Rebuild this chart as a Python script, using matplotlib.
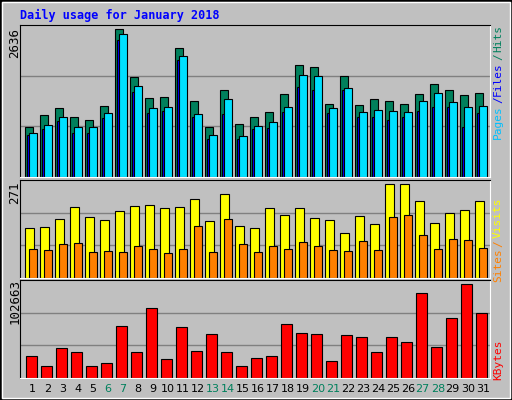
import matplotlib
matplotlib.use("Agg")
import matplotlib.pyplot as plt
from matplotlib.patches import Rectangle

days = list(range(1, 32))
weekend = [6, 7, 13, 14, 20, 21, 27, 28]

hits = [901, 1115, 1223, 1079, 1026, 1276, 2636, 1777, 1402, 1437, 2296, 1348, 901, 1545, 954, 1079,
        1169, 1473, 1992, 1956, 1312, 1795, 1294, 1384, 1348, 1312, 1473, 1652, 1545, 1455, 1491]
files = [757, 865, 1008, 793, 793, 1062, 2439, 1509, 1151, 1187, 2081, 1079, 686, 1133, 686, 865,
         883, 1169, 1598, 1545, 1151, 1545, 1079, 1079, 1026, 1079, 1187, 1258, 1241, 901, 1151]
pages = [793, 936, 1079, 901, 901, 1151, 2547, 1616, 1223, 1258, 2153, 1133, 757, 1384, 740, 918,
         990, 1258, 1813, 1795, 1223, 1580, 1169, 1205, 1187, 1169, 1348, 1491, 1330, 1258, 1276]
visits = [144, 147, 171, 206, 177, 168, 194, 209, 212, 203, 206, 227, 165, 242, 150, 144,
          203, 183, 203, 174, 168, 130, 180, 156, 271, 271, 221, 159, 189, 197, 221]
sites = [85, 80, 97, 100, 74, 77, 74, 91, 85, 71, 85, 150, 74, 171, 97, 74,
         91, 85, 103, 91, 82, 77, 106, 80, 177, 183, 124, 85, 112, 109, 88]
kbytes = [23694, 13540, 32721, 28208, 13540, 16925, 56415, 28208, 76724, 20309, 55287, 29336,
          48517, 28208, 13540, 21438, 23694, 58672, 49645, 48517, 18053, 47389, 45132, 28208,
          45132, 39491, 92521, 33849, 65441, 102663, 71083]

BG = "#C0C0C0"
GREEN = "#00805C"
W, H = 512, 400
fig = plt.figure(figsize=(W / 100, H / 100), dpi=100, facecolor=BG)
fig.patches.append(Rectangle((0, 0), 1, 1, transform=fig.transFigure, fill=False,
                             edgecolor="black", lw=2))
fig.patches.append(Rectangle((2 / W, 2 / H), 1 - 4 / W, 1 - 4 / H, transform=fig.transFigure,
                             fill=False, edgecolor="white", lw=1))

mono = "DejaVu Sans Mono"
fig.text(20 / W, 1 - 15 / H, "Daily usage for January 2018", color="#0000FF",
         family=mono, weight="bold", fontsize=8.5, va="center")


def make_ax(top, bottom, ymax):
    ax = fig.add_axes([20 / W, 1 - bottom / H, 470 / W, (bottom - top) / H])
    ax.set_facecolor(BG)
    ax.set_xlim(0.15, 31.48)
    ax.set_ylim(0, ymax)
    for f in (1 / 3, 2 / 3):
        ax.axhline(ymax * f, color="#808080", lw=1, zorder=0)
    ax.set_xticks([])
    ax.set_yticks([])
    for s in ("left", "top"):
        ax.spines[s].set_color("black")
    for s in ("right", "bottom"):
        ax.spines[s].set_color("white")
    return ax


def side(text, y, color, x=498, size=8):
    fig.text(x / W, 1 - y / H, text, rotation=90, color=color, family=mono,
             fontsize=size, ha="center", va="center")


# hits / files / pages
ax1 = make_ax(25, 177, max(hits) * 455 / 442)
kw = dict(align="edge", edgecolor="black", linewidth=0.8)
ax1.bar([d - 0.5 for d in days], hits, 0.5, color=GREEN, **kw)
ax1.bar([d - 0.39 for d in days], files, 0.18, color="#0000FF", **kw)
ax1.bar([d - 0.23 for d in days], pages, 0.5, color="#00E0FF", **kw)
side("2636", 43, "black", x=15, size=9)
side("Pages", 122, "#00C0FF")
side("/", 100, "#0000FF")
side("Files", 79, "#0000FF")
side("/", 57, GREEN)
side("Hits", 38, GREEN)

# visits / sites
ax2 = make_ax(180, 278, max(visits) * 288 / 276)
ax2.bar([d - 0.5 for d in days], visits, 0.55, color="#FFFF00", **kw)
ax2.bar([d - 0.23 for d in days], sites, 0.5, color="#FF8000", **kw)
side("271", 193, "black", x=15, size=9)
side("Sites", 265, "#FF8000")
side("/", 244, "#FF8000")
side("Visits", 218, "#FFFF00")

# kbytes
ax3 = make_ax(280, 378, max(kbytes) * 285 / 273)
ax3.bar([d - 0.43 for d in days], kbytes, 0.7, color="#FF0000", **kw)
side("102663", 302, "black", x=15, size=9)
side("KBytes", 360, "#FF0000")

for d in days:
    x = 20 + (d - 0.15) * 15
    fig.text(x / W, 1 - 389 / H, str(d), color=GREEN if d in weekend else "black",
             fontsize=8, ha="center", va="center")

fig.savefig("out.png", dpi=100, facecolor=BG)
